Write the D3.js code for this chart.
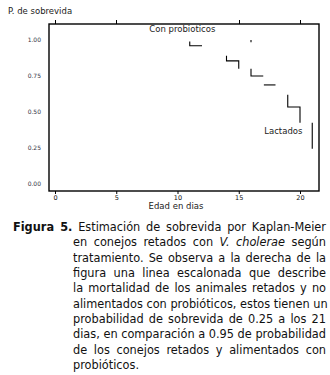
<!DOCTYPE html>
<html>
<head>
<meta charset="utf-8">
<script src="https://cdn.jsdelivr.net/npm/d3@7"></script>
<style>
  body { margin: 0; background: #fff; width: 330px; height: 375px; overflow: hidden; position: relative; }
  svg { position: absolute; left: 0; top: 0; }
  .cap { position: absolute; left: 13px; width: 313px; top: 219px; font-family: "DejaVu Sans Condensed", "DejaVu Sans", sans-serif; font-stretch: condensed; font-size: 12.6px; color: #111; }
  .cap div { height: 15.35px; line-height: 15.35px; padding-left: 60px; text-align: justify; text-align-last: justify; white-space: nowrap; }
  .cap div.first { padding-left: 0; }
  .cap div.last { text-align-last: left; }
</style>
</head>
<body>
<svg id="chart" width="330" height="215"></svg>
<div class="cap" id="cap"></div>
<script>
// dias del eje x
const xTicks = [0, 5, 10, 15, 20];
const topTicks = [0, 5, 15, 20];
const yTicks = [0, 0.25, 0.5, 0.75, 1];

// tramos visibles de la curva escalonada (dia, sobrevida)
const tramos = [
  [[11, 0.99], [11, 0.96], [12, 0.96]],
  [[16, 1.0], [16, 0.985]],
  [[14, 0.89], [14, 0.855], [15, 0.855], [15, 0.8]],
  [[16, 0.8], [16, 0.75], [17, 0.75]],
  [[17.05, 0.688], [18, 0.688]],
  [[19, 0.62], [19, 0.535], [20, 0.535], [20, 0.425]],
  [[21, 0.425], [21, 0.245]]
];

const etiquetas = [
  { text: "Con probioticos", x: 10.4, y: 1.055, anchor: "middle" },
  { text: "Lactados", x: 20.2, y: 0.348, anchor: "end" }
];

const captionLines = [
  '<b>Figura 5.</b> Estimación de sobrevida por Kaplan-Meier',
  'en conejos retados con <i>V. cholerae</i> según',
  'tratamiento. Se observa a la derecha de la',
  'figura una linea escalonada que describe',
  'la mortalidad de los animales retados y no',
  'alimentados con probióticos, estos tienen un',
  'probabilidad de sobrevida de 0.25 a los 21',
  'dias, en comparación a 0.95 de probabilidad',
  'de los conejos retados y alimentados con',
  'probióticos.'
];

const svg = d3.select("#chart");
const frame = { left: 49, right: 319, top: 24, bottom: 191 };

const x = d3.scaleLinear().domain([0, 20]).range([55, 300]);
const y = d3.scaleLinear().domain([0, 1]).range([184, 40]);

const font = "'DejaVu Sans', Verdana, sans-serif";

// marco
svg.append("rect")
  .attr("x", frame.left).attr("y", frame.top)
  .attr("width", frame.right - frame.left)
  .attr("height", frame.bottom - frame.top)
  .attr("fill", "none").attr("stroke", "#000").attr("stroke-width", 1.4);

// marcas superiores
svg.selectAll(".ttick").data(topTicks).join("line")
  .attr("class", "ttick")
  .attr("x1", d => Math.round(x(d)) + 0.5).attr("x2", d => Math.round(x(d)) + 0.5)
  .attr("y1", frame.top - 4).attr("y2", frame.top)
  .attr("stroke", "#000").attr("stroke-width", 1);

// eje inferior
const xAxis = svg.append("g")
  .attr("transform", `translate(0,${frame.bottom})`)
  .call(d3.axisBottom(x).tickValues(xTicks).tickSize(3).tickPadding(1).tickFormat(d3.format("d")));
xAxis.select(".domain").remove();
xAxis.selectAll("text").attr("font-family", font).attr("font-size", 6.5).attr("fill", "#111");

// eje izquierdo (solo etiquetas)
const yAxis = svg.append("g")
  .attr("transform", `translate(41,0)`)
  .call(d3.axisLeft(y).tickValues(yTicks).tickSize(0).tickPadding(0).tickFormat(d3.format(".2f")));
yAxis.select(".domain").remove();
yAxis.selectAll("text").attr("font-family", font).attr("font-size", 6).attr("fill", "#334");

// curva
const line = d3.line().x(d => x(d[0])).y(d => y(d[1]));
svg.selectAll(".tramo").data(tramos).join("path")
  .attr("class", "tramo")
  .attr("d", line)
  .attr("fill", "none").attr("stroke", "#000").attr("stroke-width", 1.1);

svg.selectAll(".etq").data(etiquetas).join("text")
  .attr("class", "etq")
  .attr("x", d => x(d.x)).attr("y", d => y(d.y))
  .attr("text-anchor", d => d.anchor)
  .attr("font-family", font).attr("font-size", 8.5).attr("fill", "#222")
  .text(d => d.text);

svg.append("text")
  .attr("x", 8).attr("y", 14)
  .attr("font-family", font).attr("font-size", 8.5).attr("fill", "#222")
  .text("P. de sobrevida");

svg.append("text")
  .attr("x", 176).attr("y", 209)
  .attr("text-anchor", "middle")
  .attr("font-family", font).attr("font-size", 8.5).attr("fill", "#222")
  .text("Edad en dias");

// leyenda de la figura
d3.select("#cap").selectAll("div").data(captionLines).join("div")
  .attr("class", (d, i) => i === 0 ? "first" : (i === captionLines.length - 1 ? "last" : null))
  .html(d => d);
</script>
</body>
</html>
